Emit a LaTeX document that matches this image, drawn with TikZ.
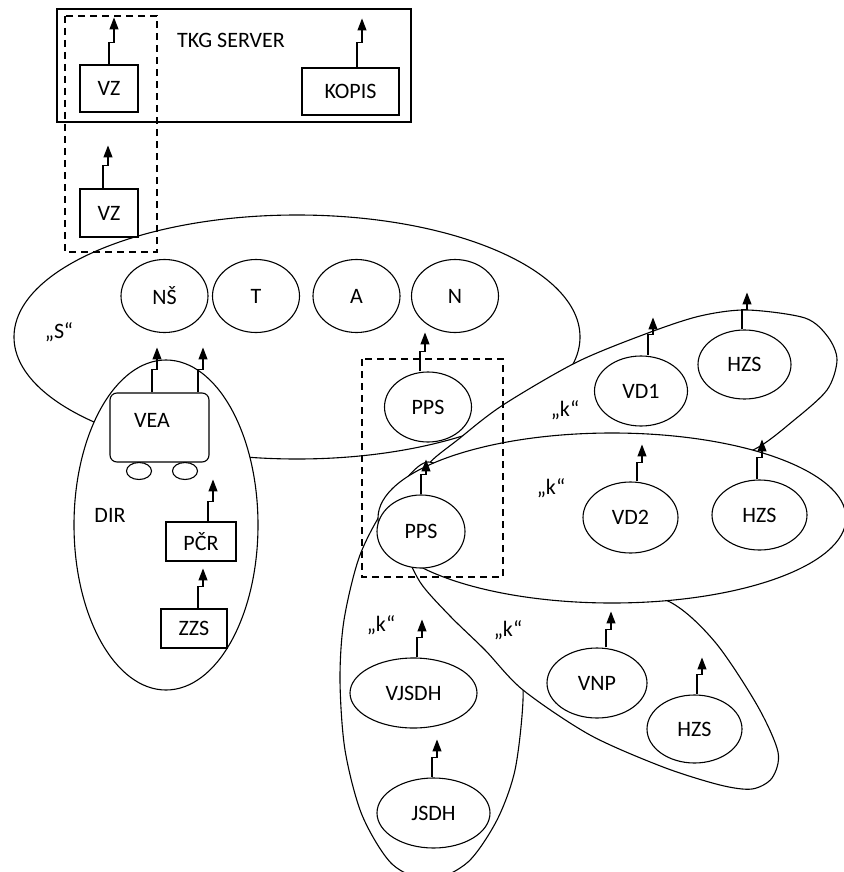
\documentclass[tikz,border=0pt]{standalone}
\usepackage{fontspec}
\setmainfont{Carlito}
\usetikzlibrary{shapes.geometric,arrows.meta,calc}

\begin{document}
\begin{tikzpicture}[x=1pt, y=-1pt,
    every node/.style={font=\fontsize{22}{26}\selectfont},
    box/.style={draw, line width=1.1pt, fill=white, inner sep=0pt},
    unit/.style={ellipse, draw, line width=1.1pt, fill=white, inner sep=0pt},
    zone/.style={draw, line width=1.1pt, fill=white},
    grp/.style={draw, line width=1.3pt, dash pattern=on 7pt off 5pt},
    ant/.style={line width=1.1pt, -{Triangle[length=12pt,width=9pt]}}]

    \useasboundingbox (0,0) rectangle (843,872);

    % Server
    \draw[line width=1.1pt] (57,9) rectangle (411,122);
    \node (tkg) at (231,40) {TKG SERVER};

    % Zones
    \draw[zone] (297,337) ellipse [x radius=283pt, y radius=122pt];
    \draw[zone] (166,525) ellipse [x radius=92pt, y radius=165pt];
    \draw[zone] plot[smooth cycle] coordinates {(428,466) (460,438) (503,405) (577,362) (648,333) (700,316) (747,310) (805,318) (828,337) (837,360) (827,390) (793,421) (755,449) (700,468) (620,478) (530,478) (460,473)};
    \draw[zone] plot[smooth cycle] coordinates {(428,462) (475,500) (505,570) (520,640) (523,700) (515,770) (497,820) (468,862) (430,880) (392,864) (362,815) (345,750) (340,680) (344,620) (360,555) (388,503)};
    \draw[zone] plot[smooth cycle] coordinates {(407,548) (420,582) (450,616) (485,650) (523,690) (590,735) (663,767) (720,785) (752,789) (772,778) (778,752) (757,705) (715,642) (670,602) (600,582) (500,565) (440,552)};
    \draw[zone] (612,518) ellipse [x radius=234pt, y radius=85pt];

    % Top boxes
    \node[box, minimum width=58pt, minimum height=47pt] (vza) at (109,88.5) {VZ};
    \node[box, minimum width=97pt, minimum height=47pt] (kopis) at (350.5,91.5) {KOPIS};
    \node[box, minimum width=58pt, minimum height=48pt] (vzb) at (109,213) {VZ};

    % S members
    \foreach \n/\x/\t in {cns/164.5/NŠ, ct/256/T, ca/356.5/A, cn/455/N}
        \node[unit, minimum width=87pt, minimum height=73pt] (\n) at (\x,296) {\t};

    % DIR
    \node[box, rounded corners=7pt, minimum width=99pt, minimum height=69pt] (vea) at (159.5,427.5) {};
    \node (vealbl) at ($(vea.center)+(-7.5,-7.5)$) {VEA};
    \node[unit, minimum width=25pt, minimum height=17pt] (wl) at (139,471) {};
    \node[unit, minimum width=25pt, minimum height=17pt] (wr) at (185,471) {};
    \node (dir) at (110,515) {DIR};
    \node[box, minimum width=70pt, minimum height=39pt] (pcr) at (201,541.5) {PČR};
    \node[box, minimum width=66pt, minimum height=39pt] (zzs) at (194,628.5) {ZZS};

    % k units
    \node[unit, minimum width=87pt, minimum height=70pt] (ppsa) at (428,407) {PPS};
    \node[unit, minimum width=88pt, minimum height=73pt] (ppsb) at (421,531.5) {PPS};
    \node[unit, minimum width=93pt, minimum height=70pt] (vda) at (641,391) {VD1};
    \node[unit, minimum width=93pt, minimum height=69pt] (hzsa) at (744.5,364.5) {HZS};
    \node[unit, minimum width=95pt, minimum height=71pt] (vdb) at (630.5,517.5) {VD2};
    \node[unit, minimum width=95pt, minimum height=70pt] (hzsb) at (759.5,515) {HZS};
    \node[unit, minimum width=127pt, minimum height=70pt] (vjsdh) at (413.5,693) {VJSDH};
    \node[unit, minimum width=113pt, minimum height=70pt] (jsdh) at (433.5,813) {JSDH};
    \node[unit, minimum width=100pt, minimum height=70pt] (vnp) at (597,683) {VNP};
    \node[unit, minimum width=95pt, minimum height=68pt] (hzsc) at (694.5,729) {HZS};

    % Antennas
    \foreach \n/\dx/\h/\t in {vza/0/22/25, kopis/6.5/25/24, vzb/-6/23/20, vea/-7.5/23/22, vea/38.5/23/22,
        pcr/7/20/22, zzs/4/22/18, ppsa/-8/20/19, ppsb/0/20/15, vda/7/21/17, hzsa/-2.5/20/17,
        vdb/6.5/19/18, hzsb/-2.5/22/18, vjsdh/3.5/20/18, jsdh/-1.5/20/18, vnp/9/18/18, hzsc/2.5/20/17}
        \draw[ant] (\n.north) ++(\dx,0) -- ++(0,-\h) -- ++(5,0) -- ++(0,-\t);

    % Groups
    \draw[grp] (65,16) rectangle (157,252);
    \draw[grp] (362,359) rectangle (503,577);

    % Labels
    \node (ls) at (59,332) {„S“};
    \node (lka) at (565,410) {„k“};
    \node (lkb) at (551,488) {„k“};
    \node (lkc) at (381,625) {„k“};
    \node (lkd) at (508,630) {„k“};
\end{tikzpicture}
\end{document}
